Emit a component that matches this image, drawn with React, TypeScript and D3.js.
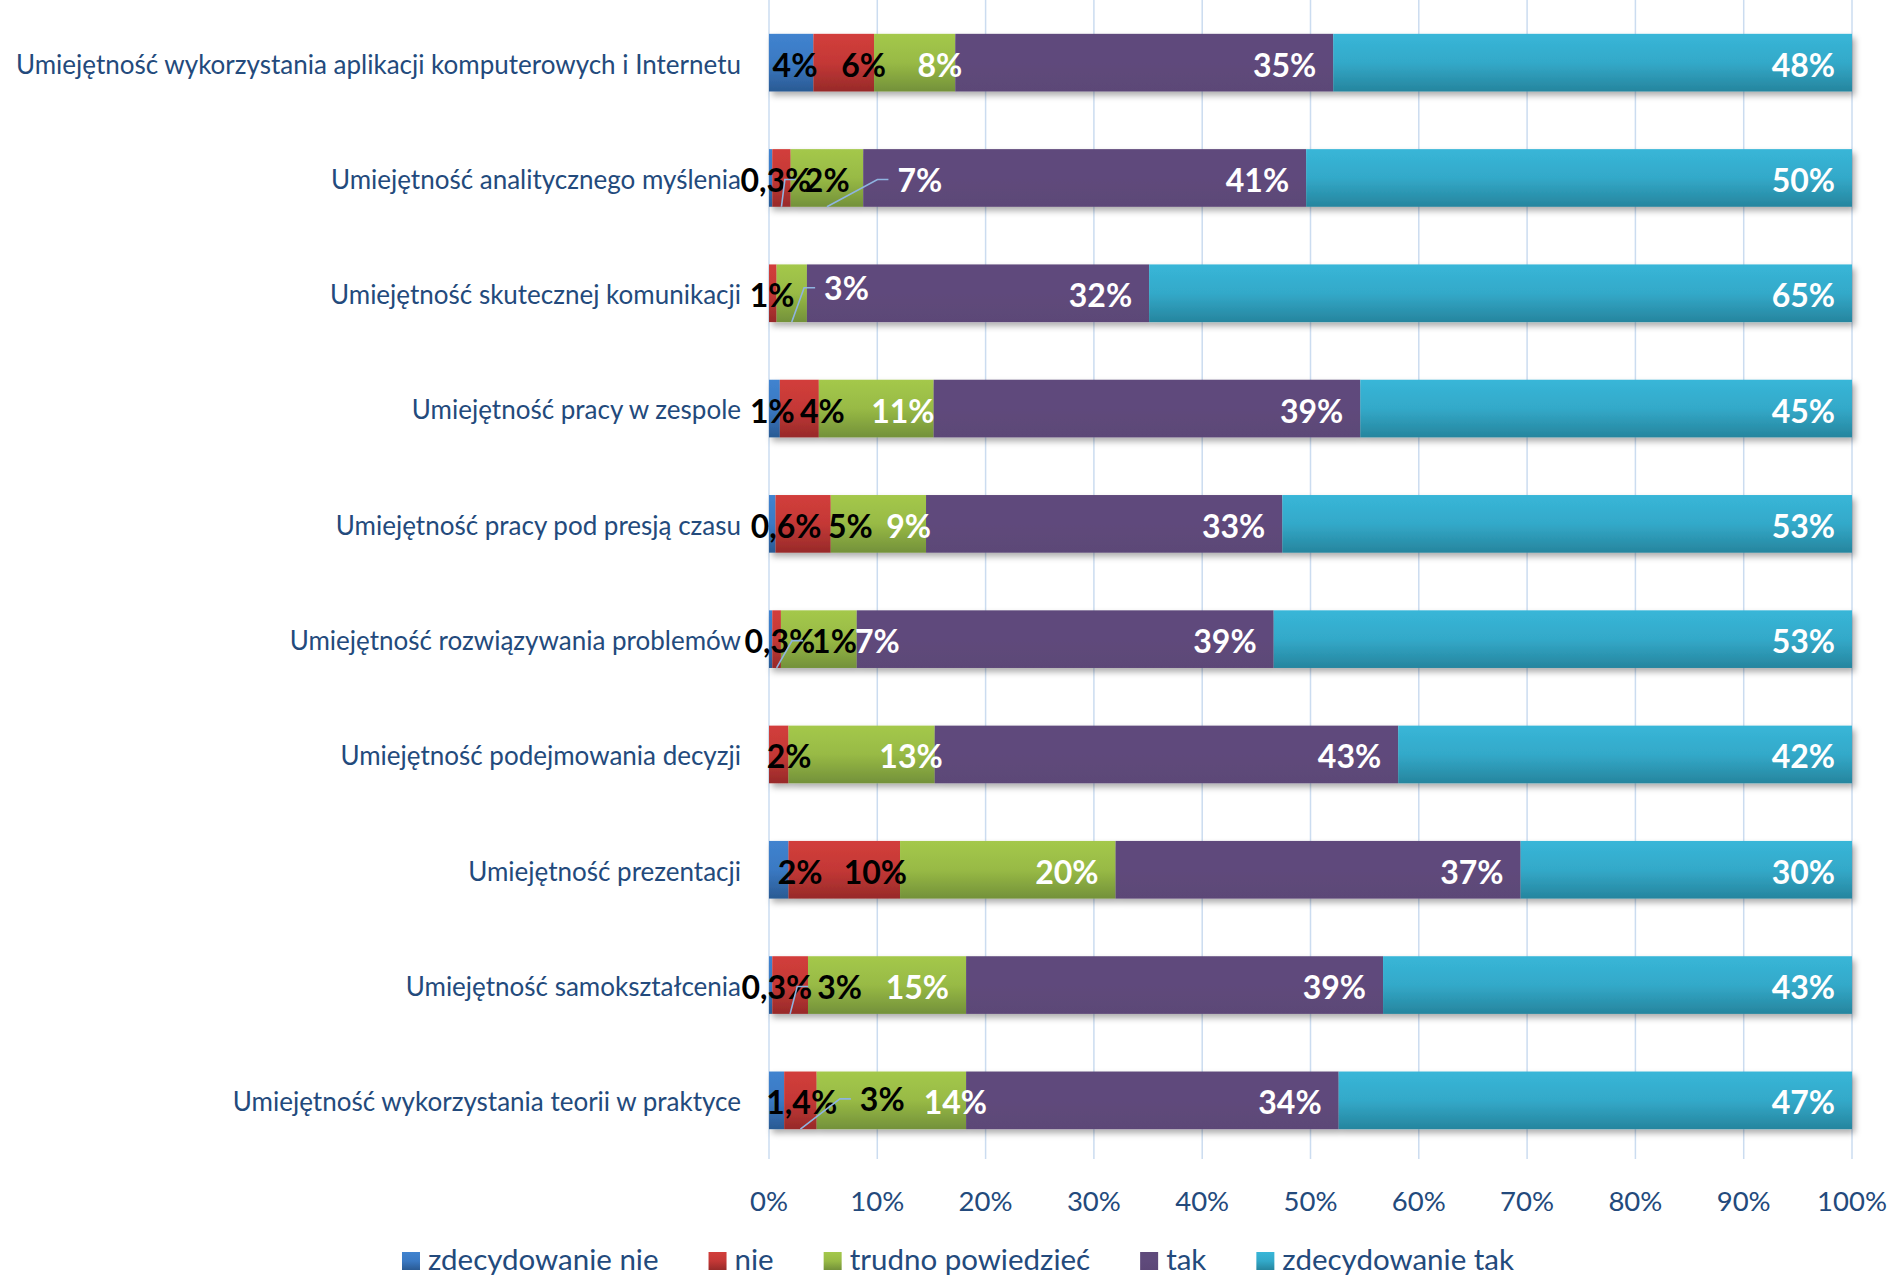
import React, { useEffect } from "react";
import * as d3 from "d3";

// ---------------- DATA ----------------
const categories = [
  "Umiejętność wykorzystania aplikacji komputerowych i Internetu",
  "Umiejętność analitycznego myślenia",
  "Umiejętność skutecznej komunikacji",
  "Umiejętność pracy w zespole",
  "Umiejętność pracy pod presją czasu",
  "Umiejętność rozwiązywania problemów",
  "Umiejętność podejmowania decyzji",
  "Umiejętność prezentacji",
  "Umiejętność samokształcenia",
  "Umiejętność wykorzystania teorii w praktyce",
];

const seriesNames = ["zdecydowanie nie", "nie", "trudno powiedzieć", "tak", "zdecydowanie tak"];

const zdecydowanieNie = [4.1, 0.3, 0, 1.0, 0.6, 0.3, 0, 1.8, 0.3, 1.4];
const nie = [5.6, 1.7, 0.7, 3.6, 5.1, 0.8, 1.8, 10.3, 3.3, 3.0];
const trudnoPowiedziec = [7.5, 6.7, 2.8, 10.6, 8.8, 7.0, 13.5, 19.9, 14.6, 13.8];
const tak = [34.9, 40.9, 31.6, 39.4, 32.9, 38.5, 42.8, 37.4, 38.5, 34.4];
const zdecydowanieTak = [47.9, 50.4, 64.9, 45.4, 52.6, 53.4, 41.9, 30.6, 43.3, 47.4];

const labelsZdecydowanieNie = ["4%", "0,3%", "", "1%", "0,6%", "0,3%", "", "2%", "0,3%", "1,4%"];
const labelsNie = ["6%", "2%", "1%", "4%", "5%", "1%", "2%", "10%", "3%", "3%"];
const labelsTrudno = ["8%", "7%", "3%", "11%", "9%", "7%", "13%", "20%", "15%", "14%"];
const labelsTak = ["35%", "41%", "32%", "39%", "33%", "39%", "43%", "37%", "39%", "34%"];
const labelsZdecydowanieTak = ["48%", "50%", "65%", "45%", "53%", "53%", "42%", "30%", "43%", "47%"];

const tickValues = [0, 10, 20, 30, 40, 50, 60, 70, 80, 90, 100];

// ---------------- STYLE / LAYOUT ----------------
const W = 1893;
const H = 1278;
const FONT = "Lato, 'Open Sans', sans-serif";
const TEXT_BLUE = "#234a7c";
const CAT_FS = 26;
const TICK_FS = 27.5;
const LEG_FS = 29.5;
const LAB_FS = 32;

const seriesStyle = [
  { id: "g0", stops: ["#4083cf", "#3a79c3", "#2a5a93"], text: "#000" },
  { id: "g1", stops: ["#d23e3b", "#c43836", "#972a29"], text: "#000" },
  { id: "g2", stops: ["#a4c84b", "#98ba45", "#73913a"], text: "#fff" },
  { id: "g3", stops: ["#5f4a7b", "#5f4a7b", "#5c4777"], text: "#fff" },
  { id: "g4", stops: ["#38b6d8", "#33a9c9", "#26859e"], text: "#fff" },
];

// manual label nudges (px) relative to "inside end" placement: [row-series] -> [dx, dy, leader]
const labelNudge: Record<string, [number, number, boolean]> = {
  "0-0": [21, 0, false], "0-1": [29, 0, false], "0-2": [24, 0, false],
  "1-0": [56, 0, false], "1-1": [76, 0, true], "1-2": [96, 0, true],
  "2-1": [35, 0, false], "2-2": [79, -7, true],
  "3-0": [32, 0, false], "3-1": [43, 0, false], "3-2": [18, 0, false],
  "4-0": [63, 0, false], "4-1": [59, 0, false], "4-2": [22, 0, false],
  "5-0": [60, 0, false], "5-1": [93, 0, true], "5-2": [60, 0, false],
  "6-1": [40, 0, false], "6-2": [25, 0, false],
  "7-0": [51, 0, false], "7-1": [24, 0, false],
  "8-0": [57, 0, false], "8-1": [71, 0, true],
  "9-0": [70, 0, false], "9-1": [105, -3, true], "9-2": [38, 0, false],
};

let _ctx: CanvasRenderingContext2D | null = null;
function measure(text: string, size: number, weight: string) {
  if (!_ctx) _ctx = document.createElement("canvas").getContext("2d");
  if (!_ctx) return text.length * size * 0.55;
  _ctx.font = `${weight} ${size}px Lato`;
  return _ctx.measureText(text).width;
}

export default function App() {
  useEffect(() => {
    document.body.style.margin = "0";
    document.body.style.overflow = "hidden";
  }, []);

  const values = [zdecydowanieNie, nie, trudnoPowiedziec, tak, zdecydowanieTak];
  const labels = [labelsZdecydowanieNie, labelsNie, labelsTrudno, labelsTak, labelsZdecydowanieTak];

  const rows = categories.map((c, i) => {
    const r: any = { cat: c };
    seriesNames.forEach((s, k) => (r[s] = values[k][i]));
    return r;
  });
  const stacked = d3.stack<any>().keys(seriesNames)(rows);

  const x = d3.scaleLinear().domain([0, 100]).range([769, 1852]);
  const y = d3.scaleBand<string>().domain(categories).range([5, 1158]).paddingInner(0.5).paddingOuter(0.25);
  const bw = y.bandwidth();

  // legend layout
  const swatch = 18;
  const legendItems = seriesNames.map((s) => ({ s, w: measure(s, LEG_FS, "400") }));
  const gapSw = 8;
  const gapItem = 50;
  const legendTotal = legendItems.reduce((a, it) => a + swatch + gapSw + it.w, 0) + gapItem * (legendItems.length - 1);
  let lx = 958 - legendTotal / 2;
  const legendPos = legendItems.map((it) => {
    const p = { ...it, x: lx };
    lx += swatch + gapSw + it.w + gapItem;
    return p;
  });
  const legendBase = 1270;

  return (
    <svg width={W} height={H} style={{ display: "block", background: "#fff" }} fontFamily={FONT}>
      <defs>
        {seriesStyle.map((st) => (
          <linearGradient key={st.id} id={st.id} x1="0" y1="0" x2="0" y2="1">
            <stop offset="0" stopColor={st.stops[0]} />
            <stop offset="0.5" stopColor={st.stops[1]} />
            <stop offset="1" stopColor={st.stops[2]} />
          </linearGradient>
        ))}
        <filter id="shadow" x="-5%" y="-30%" width="110%" height="180%">
          <feDropShadow dx="3" dy="4" stdDeviation="3" floodColor="#000" floodOpacity="0.32" />
        </filter>
      </defs>

      {/* grid */}
      {tickValues.map((t) => (
        <line key={t} x1={x(t)} x2={x(t)} y1={0} y2={1159} stroke="#cbdcf0" strokeWidth={1.5} />
      ))}

      {/* bars */}
      {categories.map((c, i) => (
        <g key={c} filter="url(#shadow)">
          {stacked.map((layer, k) => {
            const d = layer[i];
            const w = x(d[1]) - x(d[0]);
            if (w <= 0) return null;
            return (
              <rect key={k} x={x(d[0])} y={y(c)} width={w} height={bw} fill={`url(#${seriesStyle[k].id})`} />
            );
          })}
        </g>
      ))}

      {/* category labels */}
      {categories.map((c) => (
        <text
          key={c}
          x={741}
          y={(y(c) as number) + bw / 2 + CAT_FS * 0.36 + 1.5}
          textAnchor="end"
          fontSize={CAT_FS}
          fill={TEXT_BLUE}
        >
          {c}
        </text>
      ))}

      {/* data labels + leaders */}
      {categories.map((c, i) => {
        const cy = (y(c) as number) + bw / 2;
        return (
          <g key={c}>
            {stacked.map((layer, k) => {
              const txt = labels[k][i];
              if (!txt) return null;
              const d = layer[i];
              const nudge = labelNudge[`${i}-${k}`] || [0, 0, false];
              const right = x(d[1]) - 17 + nudge[0];
              const ly = cy + nudge[1] + 1.5;
              const tw = measure(txt, LAB_FS, "700");
              const left = right - tw;
              const segMid = (x(d[0]) + x(d[1])) / 2;
              return (
                <g key={k}>
                  {nudge[2] && (
                    <polyline
                      points={`${segMid},${(y(c) as number) + bw} ${left - 20},${ly} ${left - 9},${ly}`}
                      fill="none"
                      stroke="#8fb4e0"
                      strokeWidth={1.6}
                    />
                  )}
                  <text
                    x={right}
                    y={ly + LAB_FS * 0.36 + 1}
                    textAnchor="end"
                    fontSize={LAB_FS}
                    fontWeight={700}
                    fill={seriesStyle[k].text}
                  >
                    {txt}
                  </text>
                </g>
              );
            })}
          </g>
        );
      })}

      {/* x-axis tick labels */}
      {tickValues.map((t) => (
        <text key={t} x={x(t)} y={1201 + TICK_FS * 0.36} textAnchor="middle" fontSize={TICK_FS} fill={TEXT_BLUE}>
          {d3.format("d")(t) + "%"}
        </text>
      ))}

      {/* legend */}
      {legendPos.map((it, k) => (
        <g key={it.s}>
          <rect x={it.x} y={legendBase - 18} width={swatch} height={swatch} fill={`url(#${seriesStyle[k].id})`} />
          <text x={it.x + swatch + gapSw} y={legendBase} fontSize={LEG_FS} fill={TEXT_BLUE}>
            {it.s}
          </text>
        </g>
      ))}
    </svg>
  );
}
